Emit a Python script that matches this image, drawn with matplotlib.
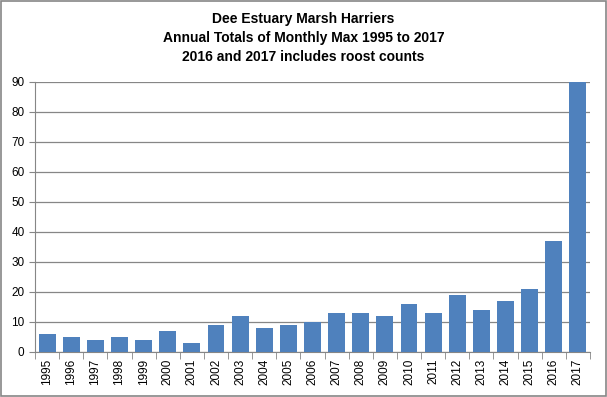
import matplotlib.pyplot as plt
import numpy as np

plt.rcParams['font.family'] = ['Liberation Sans', 'DejaVu Sans']

years = [str(y) for y in range(1995, 2018)]
totals = [6, 5, 4, 5, 4, 7, 3, 9, 12, 8, 9, 10, 13, 13, 12, 16, 13, 19, 14, 17, 21, 37, 90]

fig = plt.figure(figsize=(6.07, 3.97), dpi=100)
ax = fig.add_axes([35/607, 1-352/397, 555/607, 270/397])

x = np.arange(len(years))
ax.bar(x, totals, width=0.7, color='#4F81BD', zorder=3)

ax.set_xlim(-0.5, len(years) - 0.5)
ax.set_ylim(0, 90)
ax.set_yticks(range(0, 91, 10))
ax.yaxis.grid(True, color='#868686', linewidth=0.9, zorder=0)
ax.set_xticks(x)
ax.set_xticklabels(years, rotation=90, fontsize=8.5)
ax.tick_params(axis='x', length=0, pad=5)
ax.set_xticks(np.arange(-0.5, len(years), 1), minor=True)
ax.tick_params(axis='x', which='minor', length=5, color='#868686')
ax.tick_params(axis='y', labelsize=8.5, length=4, color='#868686')
for s in ['top', 'right']:
    ax.spines[s].set_visible(False)
for s in ['left', 'bottom']:
    ax.spines[s].set_color('#868686')

fig.text(0.5, 0.97, "Dee Estuary Marsh Harriers\nAnnual Totals of Monthly Max 1995 to 2017\n2016 and 2017 includes roost counts",
         ha='center', va='top', fontsize=10, fontweight='bold', linespacing=1.45)

fig.patches.append(plt.Rectangle((0.002, 0.002), 0.996, 0.995, transform=fig.transFigure,
                                 fill=False, edgecolor='#868686', linewidth=1.2))

fig.savefig('out.png', dpi=100)
